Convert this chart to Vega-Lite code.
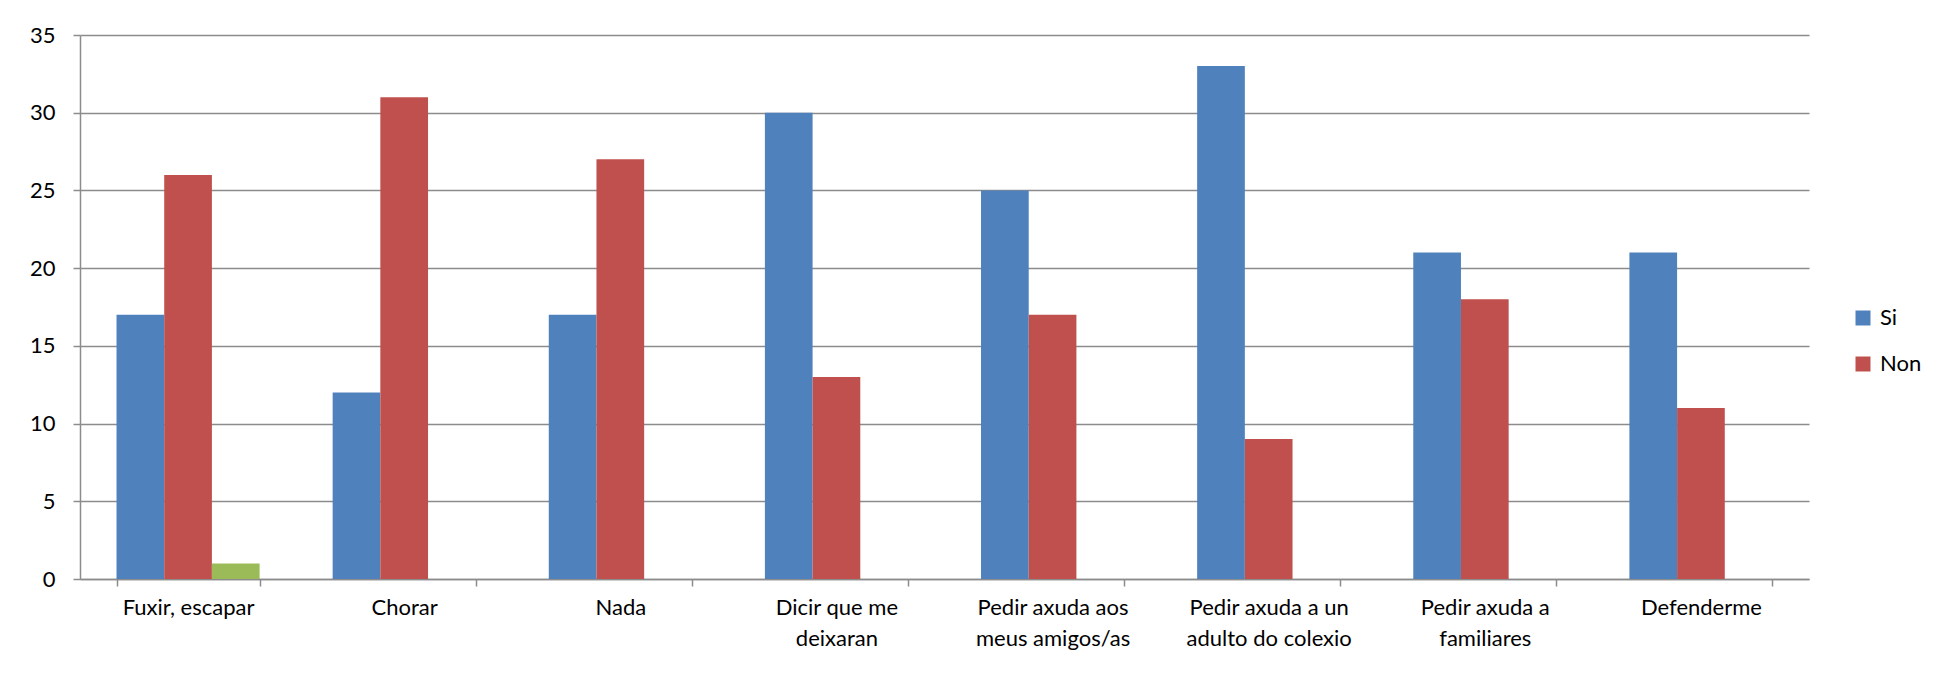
{
  "$schema": "https://vega.github.io/schema/vega-lite/v6.json",
  "autosize": "none",
  "width": 1729,
  "height": 544,
  "padding": {"left": 80, "top": 35, "right": 142, "bottom": 95},
  "background": "white",
  "config": {
    "font": "Lato",
    "view": {"stroke": null},
    "axis": {"labelFont": "Lato", "labelColor": "#000000"}
  },
  "data": {
    "values": [
      {"categoria": "Fuxir, escapar", "resposta": "Si", "valor": 17},
      {"categoria": "Fuxir, escapar", "resposta": "Non", "valor": 26},
      {"categoria": "Fuxir, escapar", "resposta": "Outro", "valor": 1},
      {"categoria": "Chorar", "resposta": "Si", "valor": 12},
      {"categoria": "Chorar", "resposta": "Non", "valor": 31},
      {"categoria": "Nada", "resposta": "Si", "valor": 17},
      {"categoria": "Nada", "resposta": "Non", "valor": 27},
      {"categoria": "Dicir que me deixaran", "resposta": "Si", "valor": 30},
      {"categoria": "Dicir que me deixaran", "resposta": "Non", "valor": 13},
      {"categoria": "Pedir axuda aos meus amigos/as", "resposta": "Si", "valor": 25},
      {"categoria": "Pedir axuda aos meus amigos/as", "resposta": "Non", "valor": 17},
      {"categoria": "Pedir axuda a un adulto do colexio", "resposta": "Si", "valor": 33},
      {"categoria": "Pedir axuda a un adulto do colexio", "resposta": "Non", "valor": 9},
      {"categoria": "Pedir axuda a familiares", "resposta": "Si", "valor": 21},
      {"categoria": "Pedir axuda a familiares", "resposta": "Non", "valor": 18},
      {"categoria": "Defenderme", "resposta": "Si", "valor": 21},
      {"categoria": "Defenderme", "resposta": "Non", "valor": 11}
    ]
  },
  "mark": {"type": "bar"},
  "encoding": {
    "x": {
      "field": "categoria",
      "type": "nominal",
      "sort": null,
      "scale": {"paddingInner": 0.338, "paddingOuter": 0.169},
      "axis": {
        "title": null,
        "labelAngle": 0,
        "labelFontSize": 22,
        "labelPadding": 11,
        "labelLineHeight": 31,
        "labelBaseline": "top",
        "tickBand": "extent",
        "tickSize": 7,
        "tickColor": "#8c8c8c",
        "tickWidth": 1.5,
        "domainColor": "#8c8c8c",
        "domainWidth": 1.5,
        "labelExpr": "datum.value == 'Dicir que me deixaran' ? ['Dicir que me', 'deixaran'] : datum.value == 'Pedir axuda aos meus amigos/as' ? ['Pedir axuda aos', 'meus amigos/as'] : datum.value == 'Pedir axuda a un adulto do colexio' ? ['Pedir axuda a un', 'adulto do colexio'] : datum.value == 'Pedir axuda a familiares' ? ['Pedir axuda a', 'familiares'] : datum.label"
      }
    },
    "xOffset": {
      "field": "resposta",
      "type": "nominal",
      "sort": ["Si", "Non", "Outro"],
      "scale": {"domain": ["Si", "Non", "Outro"], "paddingInner": 0, "paddingOuter": 0}
    },
    "y": {
      "field": "valor",
      "type": "quantitative",
      "scale": {"domain": [0, 35], "nice": false},
      "axis": {
        "title": null,
        "values": [0, 5, 10, 15, 20, 25, 30, 35],
        "labelFontSize": 22,
        "labelPadding": 18,
        "tickSize": 7,
        "tickColor": "#8c8c8c",
        "tickWidth": 1.5,
        "domainColor": "#8c8c8c",
        "domainWidth": 1.5,
        "grid": true,
        "gridColor": "#8c8c8c",
        "gridWidth": 1.5
      }
    },
    "color": {
      "field": "resposta",
      "type": "nominal",
      "scale": {"domain": ["Si", "Non", "Outro"], "range": ["#4F81BD", "#C0504D", "#9BBB59"]},
      "legend": {
        "title": null,
        "values": ["Si", "Non"],
        "orient": "none",
        "legendX": 1772,
        "legendY": 272,
        "symbolType": "square",
        "symbolSize": 225,
        "symbolStrokeWidth": 0,
        "labelFontSize": 22,
        "labelOffset": 6,
        "rowPadding": 24,
        "padding": 0
      }
    }
  }
}
